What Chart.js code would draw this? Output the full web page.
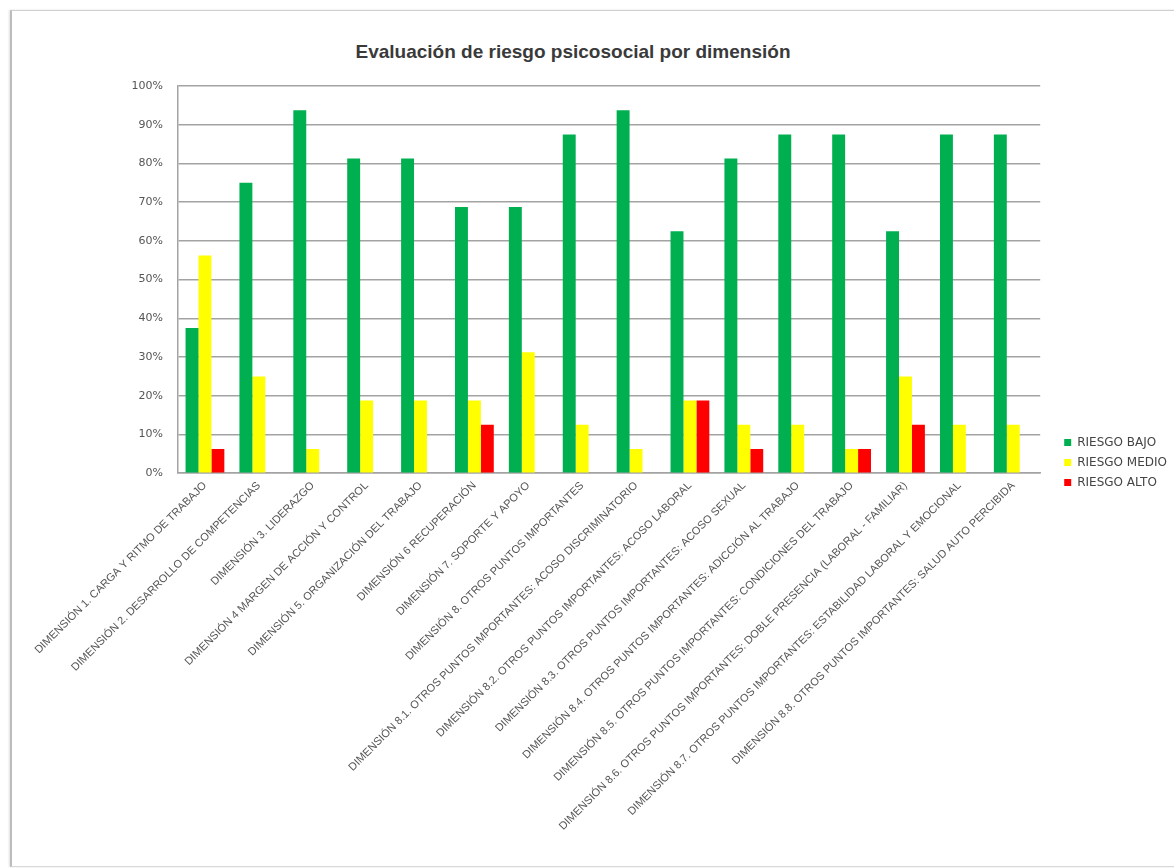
<!DOCTYPE html>
<html>
<head>
<meta charset="utf-8">
<script src="https://cdn.jsdelivr.net/npm/chart.js@4/dist/chart.umd.min.js"></script>
<style>
	html, body { margin: 0; padding: 0; background: #fff; overflow: hidden; width: 1174px; height: 868px; }
	#frame {
		position: absolute; left: 10px; top: 10px; width: 1260px; height: 855px;
		border-left: 2px solid #bcbcbc; border-top: 1px solid #cfcfcf; border-bottom: 1px solid #d8d8d8;
		box-shadow: -1px 0 2px rgba(0,0,0,0.12);
	}
	#title {
		position: absolute; left: 273px; width: 600px; top: 41px; text-align: center;
		font: bold 19px "Liberation Sans", Arial, sans-serif; color: #3a3a3a;
	}
	#chart { position: absolute; left: 13px; top: 13px; }
</style>
</head>
<body>
<div id="frame"></div>
<div id="title">Evaluación de riesgo psicosocial por dimensión</div>
<canvas id="chart" width="1164" height="840"></canvas>

<script>
const dimensiones = [
	'DIMENSIÓN 1. CARGA Y RITMO DE TRABAJO',
	'DIMENSIÓN 2. DESARROLLO DE COMPETENCIAS',
	'DIMENSIÓN 3. LIDERAZGO',
	'DIMENSIÓN 4 MARGEN DE ACCIÓN Y CONTROL',
	'DIMENSIÓN 5. ORGANIZACIÓN DEL TRABAJO',
	'DIMENSIÓN 6 RECUPERACIÓN',
	'DIMENSIÓN 7. SOPORTE Y APOYO',
	'DIMENSIÓN 8. OTROS PUNTOS IMPORTANTES',
	'DIMENSIÓN 8.1. OTROS PUNTOS IMPORTANTES: ACOSO DISCRIMINATORIO',
	'DIMENSIÓN 8.2. OTROS PUNTOS IMPORTANTES: ACOSO LABORAL',
	'DIMENSIÓN 8.3. OTROS PUNTOS IMPORTANTES: ACOSO SEXUAL',
	'DIMENSIÓN 8.4. OTROS PUNTOS IMPORTANTES: ADICCIÓN AL TRABAJO',
	'DIMENSIÓN 8.5. OTROS PUNTOS IMPORTANTES: CONDICIONES DEL TRABAJO',
	'DIMENSIÓN 8.6. OTROS PUNTOS IMPORTANTES: DOBLE PRESENCIA (LABORAL - FAMILIAR)',
	'DIMENSIÓN 8.7. OTROS PUNTOS IMPORTANTES: ESTABILIDAD LABORAL Y EMOCIONAL',
	'DIMENSIÓN 8.8. OTROS PUNTOS IMPORTANTES: SALUD AUTO PERCIBIDA'
];

// porcentaje de trabajadores en cada nivel de riesgo
const riesgoBajo  = [37.5, 75, 93.75, 81.25, 81.25, 68.75, 68.75, 87.5, 93.75, 62.5, 81.25, 87.5, 87.5, 62.5, 87.5, 87.5];
const riesgoMedio = [56.25, 25, 6.25, 18.75, 18.75, 18.75, 31.25, 12.5, 6.25, 18.75, 12.5, 12.5, 6.25, 25, 12.5, 12.5];
const riesgoAlto  = [6.25, 0, 0, 0, 0, 12.5, 0, 0, 0, 18.75, 6.25, 0, 6.25, 12.5, 0, 0];

const yTicks = [0, 10, 20, 30, 40, 50, 60, 70, 80, 90, 100];

const grid = '#a3a3a3';

new Chart(document.getElementById('chart'), {
	type: 'bar',
	data: {
		labels: dimensiones,
		datasets: [
			{ label: 'RIESGO BAJO', data: riesgoBajo, backgroundColor: '#00b050' },
			{ label: 'RIESGO MEDIO', data: riesgoMedio, backgroundColor: '#ffff00' },
			{ label: 'RIESGO ALTO', data: riesgoAlto, backgroundColor: '#ff0000' }
		]
	},
	options: {
		responsive: false,
		animation: false,
		layout: { padding: { top: 73, left: 0, right: 0, bottom: 14 } },
		datasets: {
			bar: { categoryPercentage: 0.72, barPercentage: 1 }
		},
		plugins: {
			title: { display: false },
			tooltip: { enabled: false },
			legend: {
				position: 'right',
				align: 'center',
				labels: {
					boxWidth: 7,
					boxHeight: 7,
					padding: 8,
					color: '#444',
					font: { family: '"DejaVu Sans", sans-serif', size: 12 }
				}
			}
		},
		scales: {
			x: {
				grid: { display: false, drawTicks: false },
				border: { display: true, color: grid, width: 1.5 },
				ticks: {
					autoSkip: false,
					minRotation: 45,
					maxRotation: 45,
					padding: 6,
					color: '#555',
					font: { family: '"Liberation Sans", Arial, sans-serif', size: 11 }
				}
			},
			y: {
				min: 0,
				max: 100,
				afterBuildTicks: s => { s.ticks = yTicks.map(v => ({ value: v })); },
				afterFit: s => { s.width = 165; },
				grid: { color: grid, lineWidth: 1.5, drawTicks: false },
				border: { display: true, color: grid, width: 1.5 },
				ticks: {
					padding: 15,
					color: '#555',
					font: { family: '"DejaVu Sans", sans-serif', size: 11 },
					callback: v => v + '%'
				}
			},
			// empty right-hand axis, only keeps a gap between the plot and the legend
			gap: {
				type: 'linear',
				position: 'right',
				grid: { display: false, drawTicks: false },
				border: { display: false },
				ticks: { display: false },
				afterFit: s => { s.width = 16; }
			}
		}
	}
});
</script>
</body>
</html>
